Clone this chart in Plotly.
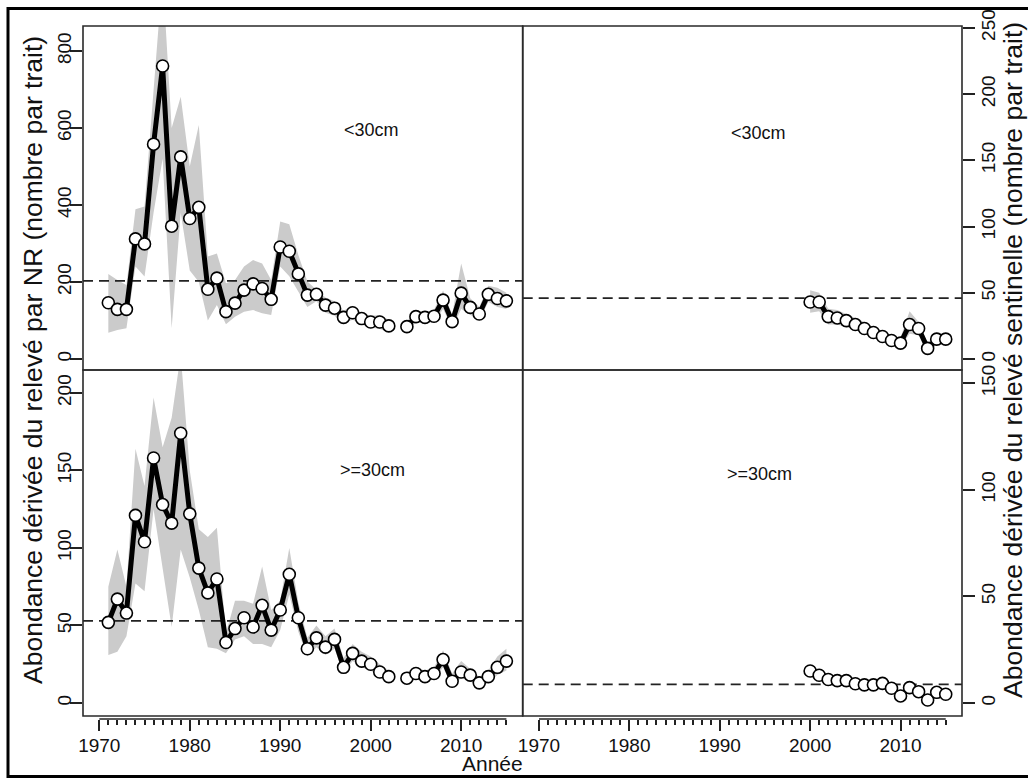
import plotly.graph_objects as go

# ---- data -------------------------------------------------------------
years_nr = list(range(1971, 2016))          # relevé par NR (2003 manquant)
years_sent = list(range(2000, 2016))        # relevé sentinelle

nr_small = [146, 129, 129, 312, 299, 558, 761, 345, 525, 365, 394, 181, 210, 123, 145,
            179, 195, 183, 155, 291, 280, 221, 166, 168, 140, 132, 108, 120, 105, 96,
            96, 86, None, 84, 110, 108, 111, 153, 97, 171, 134, 117, 168, 157, 151]
nr_small_hi = [221, 205, 192, 389, 396, 690, 1000, 600, 681, 500, 608, 266, 274, 197, 205,
               240, 257, 248, 205, 357, 350, 270, 201, 180, 160, 150, 125, 138, 120, 112,
               114, 102, None, 98, 126, 122, 128, 178, 115, 248, 158, 135, 190, 185, 172]
nr_small_lo = [68, 75, 80, 240, 214, 380, 520, 80, 380, 230, 200, 100, 140, 90, 110,
               123, 127, 119, 114, 240, 215, 175, 135, 150, 120, 112, 92, 102, 90, 82,
               78, 71, None, 72, 95, 94, 95, 130, 80, 130, 115, 100, 148, 135, 130]

nr_large = [52, 67, 58, 121, 104, 158, 128, 116, 174, 122, 87, 71, 80, 39, 48,
            55, 49, 63, 47, 60, 83, 55, 35, 42, 36, 41, 23, 32, 27, 25,
            20, 17, None, 16, 19, 17, 19, 28, 14, 20, 18, 13, 17, 23, 27]
nr_large_hi = [75, 99, 75, 164, 140, 197, 165, 184, 225, 150, 112, 107, 113, 45, 66,
               66, 64, 88, 60, 66, 100, 65, 42, 50, 43, 48, 29, 38, 33, 30,
               25, 21, None, 20, 23, 21, 23, 34, 19, 27, 22, 17, 21, 30, 35]
nr_large_lo = [31, 33, 43, 77, 72, 125, 86, 49, 99, 81, 60, 36, 35, 32, 41,
               43, 38, 38, 36, 47, 70, 46, 30, 36, 31, 35, 19, 27, 23, 21,
               16, 14, None, 13, 15, 14, 15, 23, 11, 16, 14, 10, 13, 18, 21]

sent_small = [43, 43, 32, 31, 29, 26, 23, 20, 17, 14, 12, 26, 23, 8, 15, 15]
sent_small_hi = [52, 50, 38, 37, 34, 31, 28, 24, 21, 18, 16, 36, 28, 12, 20, 19]
sent_small_lo = [35, 36, 26, 26, 24, 22, 19, 16, 14, 11, 9, 19, 18, 5, 11, 11]

sent_large = [15, 13, 11, 10.5, 10.5, 9, 8.5, 8.5, 9.2, 6.9, 3.3, 7.2, 5.3, 1.4, 5, 4.1]
sent_large_hi = [18, 15.5, 13, 12.5, 12.5, 11, 10.5, 10.5, 11, 9, 5, 10, 7, 3, 7, 6.5]
sent_large_lo = [12, 11, 9, 8.5, 8.5, 7.5, 7, 7, 7, 5.5, 2, 5.5, 4, 0.5, 3.5, 2.8]

# moyennes de référence (lignes tiretées)
ref_nr_small = 203
ref_nr_large = 53
ref_sent_small = 46
ref_sent_large = 8.7

size_labels = ["<30cm", ">=30cm"]
x_major = list(range(1970, 2016, 5))
x_major_text = [str(v) if v % 10 == 0 else "" for v in x_major]
x_minor = list(range(1970, 2016))
y_ticks_nr_small = [0, 200, 400, 600, 800]
y_ticks_nr_large = [0, 50, 100, 150, 200]
y_ticks_sent_small = [0, 50, 100, 150, 200, 250]
y_ticks_sent_large = [0, 50, 100, 150]

x_range = [1968.2, 2016.8]
y_range_nr_small = [-28.6, 865]
y_range_nr_large = [-8.4, 214.8]
y_range_sent_small = [v / 3.44 for v in y_range_nr_small]
y_range_sent_large = [v / 1.375 for v in y_range_nr_large]

# ---- layout geometry (pixels of a 1028 x 778 page) ---------------------
W, H = 1028, 778
def px(x):
    return x / W
def py(y):
    return 1 - y / H

XL = [px(83), px(522.7)]
XR = [px(522.7), px(962)]
YT = [py(370), py(26)]
YB = [py(716), py(370)]

FONT = "Liberation Sans, Arial, sans-serif"
BAND = "#CBCBCB"

fig = go.Figure()


def segments(xs, *cols):
    """Split parallel lists into runs without missing values."""
    runs, cur = [], []
    for i, x in enumerate(xs):
        if any(c[i] is None for c in cols):
            if cur:
                runs.append(cur)
            cur = []
        else:
            cur.append(i)
    if cur:
        runs.append(cur)
    return runs


def add_panel(xs, vals, hi, lo, ref, xa, ya):
    for run in segments(xs, hi, lo):
        bx = [xs[i] for i in run] + [xs[i] for i in reversed(run)]
        by = [hi[i] for i in run] + [lo[i] for i in reversed(run)]
        fig.add_trace(go.Scatter(x=bx, y=by, fill="toself", fillcolor=BAND,
                                 line=dict(width=0), mode="lines",
                                 hoverinfo="skip", showlegend=False,
                                 xaxis=xa, yaxis=ya))
    fig.add_trace(go.Scatter(x=x_range, y=[ref, ref], mode="lines",
                             line=dict(color="#222", width=1.8, dash="10px,6px"),
                             hoverinfo="skip", showlegend=False,
                             xaxis=xa, yaxis=ya))
    fig.add_trace(go.Scatter(x=xs, y=vals, mode="lines+markers",
                             line=dict(color="black", width=5),
                             marker=dict(symbol="circle", size=12, color="white",
                                         line=dict(color="black", width=1.6)),
                             connectgaps=False, showlegend=False,
                             xaxis=xa, yaxis=ya))


add_panel(years_nr, nr_small, nr_small_hi, nr_small_lo, ref_nr_small, "x", "y")
add_panel(years_sent, sent_small, sent_small_hi, sent_small_lo, ref_sent_small, "x2", "y2")
add_panel(years_nr, nr_large, nr_large_hi, nr_large_lo, ref_nr_large, "x3", "y3")
add_panel(years_sent, sent_large, sent_large_hi, sent_large_lo, ref_sent_large, "x4", "y4")

tickfont = dict(family=FONT, size=19, color="#111")

hidden_x = dict(range=x_range, showticklabels=False, ticks="", showline=False,
                showgrid=False, zeroline=False, fixedrange=True, automargin=False)
x_axis_pos = py(719)
shown_x = dict(range=x_range, anchor="free", position=x_axis_pos, side="bottom",
               tickmode="array", tickvals=x_major, ticktext=x_major_text,
               ticks="outside", ticklen=11, tickwidth=1.5, tickcolor="#222",
               minor=dict(tickmode="array", tickvals=x_minor, ticks="outside",
                          ticklen=5, tickwidth=1.5, tickcolor="#222"),
               ticklabelstandoff=-2,
               showline=False, showgrid=False, zeroline=False, tickfont=tickfont,
               automargin=False, fixedrange=True)


def y_axis(rng, ticks, side, anchor, domain, standoff):
    return dict(range=rng, domain=domain, anchor=anchor, side=side,
                tickmode="array", tickvals=ticks, ticks="outside", ticklen=12,
                tickwidth=1.5, tickcolor="#222", tickangle=-90,
                ticklabelstandoff=standoff,
                showline=False, showgrid=False, zeroline=False,
                tickfont=tickfont, fixedrange=True, automargin=False)


shapes = []
# panel frames
for xd, yd in [(XL, YT), (XR, YT), (XL, YB), (XR, YB)]:
    shapes.append(dict(type="rect", xref="paper", yref="paper",
                       x0=xd[0], x1=xd[1], y0=yd[0], y1=yd[1],
                       line=dict(color="#2a2a2a", width=1.6), layer="above"))
# x-axis baselines, first to last tick
for xa in ["x3", "x4"]:
    shapes.append(dict(type="line", xref=xa, yref="paper",
                       x0=x_major[0], x1=x_major[-1], y0=x_axis_pos, y1=x_axis_pos,
                       line=dict(color="#222", width=1.5)))
# outer frame
shapes.append(dict(type="rect", xref="paper", yref="paper",
                   x0=px(8), x1=px(1040), y0=py(776.5), y1=py(8.5),
                   line=dict(color="black", width=3)))

label_font = dict(family=FONT, size=18, color="#111")
title_font = dict(family=FONT, size=26.5, color="#111")


def note(text, xref, yref, x, y, font, angle=0):
    return dict(text=text, xref=xref, yref=yref, x=x, y=y, xanchor="center",
                yanchor="middle", textangle=angle, showarrow=False, font=font)


annotations = [
    note(size_labels[0], "x domain", "y domain", 0.657, 0.698, label_font),
    note(size_labels[0], "x2 domain", "y2 domain", 0.536, 0.689, label_font),
    note(size_labels[1], "x3 domain", "y3 domain", 0.659, 0.711, label_font),
    note(size_labels[1], "x4 domain", "y4 domain", 0.54, 0.699, label_font),
    note("Abondance dérivée du relevé par NR (nombre par trait)",
         "paper", "paper", px(33), py(360), title_font, -90),
    note("Abondance dérivée du relevé sentinelle (nombre par trait)",
         "paper", "paper", px(1013), py(360), title_font, -90),
    dict(text="Année", xref="paper", yref="paper", x=px(492), y=py(776),
         xanchor="center", yanchor="bottom", showarrow=False,
         font=dict(family=FONT, size=21, color="#111"), borderpad=0),
]

fig.update_layout(
    width=W, height=H,
    margin=dict(l=0, r=0, t=0, b=0, pad=0, autoexpand=False),
    paper_bgcolor="white", plot_bgcolor="white",
    showlegend=False,
    font=dict(family=FONT, color="#111"),
    xaxis=dict(domain=XL, anchor="y", **hidden_x),
    xaxis2=dict(domain=XR, anchor="y2", **hidden_x),
    xaxis3=dict(domain=XL, **shown_x),
    xaxis4=dict(domain=XR, **shown_x),
    yaxis=y_axis(y_range_nr_small, y_ticks_nr_small, "left", "x", YT, -9),
    yaxis2=y_axis(y_range_sent_small, y_ticks_sent_small, "right", "x2", YT, -3),
    yaxis3=y_axis(y_range_nr_large, y_ticks_nr_large, "left", "x3", YB, -9),
    yaxis4=y_axis(y_range_sent_large, y_ticks_sent_large, "right", "x4", YB, -3),
    shapes=shapes,
    annotations=annotations,
)

fig.write_html("out.html")
